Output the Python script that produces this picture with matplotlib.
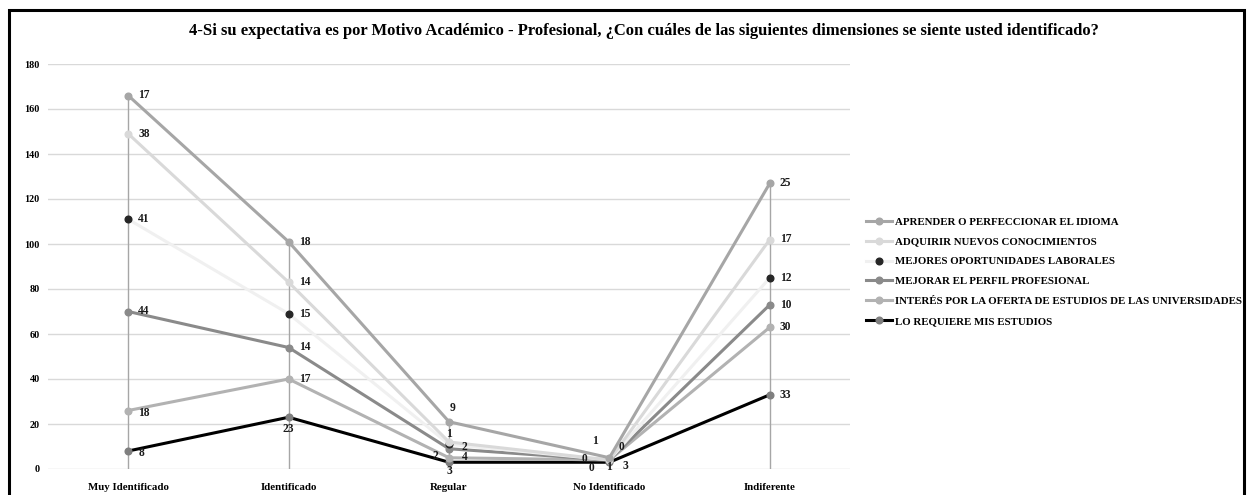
import matplotlib
matplotlib.use("Agg")
import matplotlib.pyplot as plt
from matplotlib.patches import Rectangle
import numpy as np

categories = ["Muy Identificado", "Identificado", "Regular", "No Identificado", "Indiferente"]

lo_requiere = [8, 23, 3, 3, 33]
interes_oferta = [18, 17, 2, 1, 30]
mejorar_perfil = [44, 14, 4, 0, 10]
mejores_oportunidades = [41, 15, 2, 0, 12]
adquirir_conocimientos = [38, 14, 1, 0, 17]
aprender_idioma = [17, 18, 9, 1, 25]

series_names = [
    "LO REQUIERE MIS ESTUDIOS",
    "INTERÉS POR LA OFERTA DE ESTUDIOS DE LAS UNIVERSIDADES",
    "MEJORAR EL PERFIL PROFESIONAL",
    "MEJORES OPORTUNIDADES LABORALES",
    "ADQUIRIR NUEVOS CONOCIMIENTOS",
    "APRENDER O PERFECCIONAR EL IDIOMA",
]
series_values = [lo_requiere, interes_oferta, mejorar_perfil,
                 mejores_oportunidades, adquirir_conocimientos, aprender_idioma]

line_colors = ["#000000", "#b2b2b2", "#8a8a8a", "#f0f0f0", "#d9d9d9", "#a6a6a6"]
marker_colors = ["#7f7f7f", "#b2b2b2", "#8a8a8a", "#262626", "#d9d9d9", "#a6a6a6"]

title = "4-Si su expectativa es por Motivo Académico - Profesional, ¿Con cuáles de las siguientes dimensiones se siente usted identificado?"

plt.rcParams["font.family"] = ["Liberation Serif", "DejaVu Serif"]
plt.rcParams["font.weight"] = "bold"

W, H = 1248, 495
fig = plt.figure(figsize=(W / 100, H / 100), dpi=100)
ax = fig.add_axes([48 / W, (H - 469) / H, 802 / W, 405 / H])

x = np.arange(len(categories))
cum = np.cumsum(np.array(series_values, dtype=float), axis=0)

# drop lines
tops = cum.max(axis=0)
ax.vlines(x, 0, tops, color="#a6a6a6", lw=1.0, zorder=2)

handles = []
for i, name in enumerate(series_names):
    h, = ax.plot(x, cum[i], color=line_colors[i], lw=2.2, marker="o",
                 markersize=4.8, markerfacecolor=marker_colors[i],
                 markeredgecolor=marker_colors[i], zorder=3 + i, label=name)
    handles.append(h)

# label offsets in pixels keyed by (category index, series index)
offsets = {
    (0, 0): (10, -2),
    (0, 1): (10, -3),
    (1, 0): (0, -12),
    (2, 0): (0, -9),
    (2, 1): (-11, 2),
    (2, 2): (13, -8),
    (2, 3): (13, -3),
    (2, 4): (0, 8),
    (2, 5): (4, 14),
    (3, 0): (13, -4),
    (3, 1): (0, -7),
    (3, 2): (-15, -8),
    (3, 3): (-22, 1),
    (3, 4): (9, 13),
    (3, 5): (-12, 17),
}

for i in range(len(series_names)):
    for j in range(len(categories)):
        dx, dy = offsets.get((j, i), (10, 0))
        ha = "left" if dx >= 7 else ("right" if dx <= -7 else "center")
        ax.annotate(str(series_values[i][j]), (x[j], cum[i][j]),
                    xytext=(dx, dy), textcoords="offset pixels",
                    ha=ha, va="center", fontsize=8.3, fontweight="bold",
                    color="#1a1a1a", zorder=20)

ax.set_xlim(-0.5, len(categories) - 0.5)
ax.set_ylim(0, 180)
ax.set_yticks(np.arange(0, 181, 20))
ax.set_xticks(x)
ax.set_xticklabels(categories, fontsize=7.8, fontweight="bold")
ax.tick_params(axis="y", labelsize=7.3, length=0, pad=6)
ax.tick_params(axis="x", length=0, pad=10)
ax.grid(axis="y", color="#d9d9d9", lw=1.0)
ax.set_axisbelow(True)
for s in ax.spines.values():
    s.set_visible(False)

fig.text(644 / W, 1 - 31 / H, title, ha="center", va="center",
         fontsize=12, fontweight="bold")

order = list(reversed(range(len(series_names))))
fig.legend([handles[k] for k in order], [series_names[k] for k in order],
           loc="upper left", bbox_to_anchor=(866 / W, 1 - 217 / H),
           frameon=False, fontsize=7.8, handlelength=2.4, handletextpad=0.25,
           labelspacing=0.95, borderaxespad=0, borderpad=0)

fig.add_artist(Rectangle((9 / W, -0.05), (1244 - 9) / W, 1.05 - 10 / H,
                         transform=fig.transFigure, fill=False,
                         edgecolor="black", lw=2.2))

fig.savefig("out.png", dpi=100, facecolor="white")
